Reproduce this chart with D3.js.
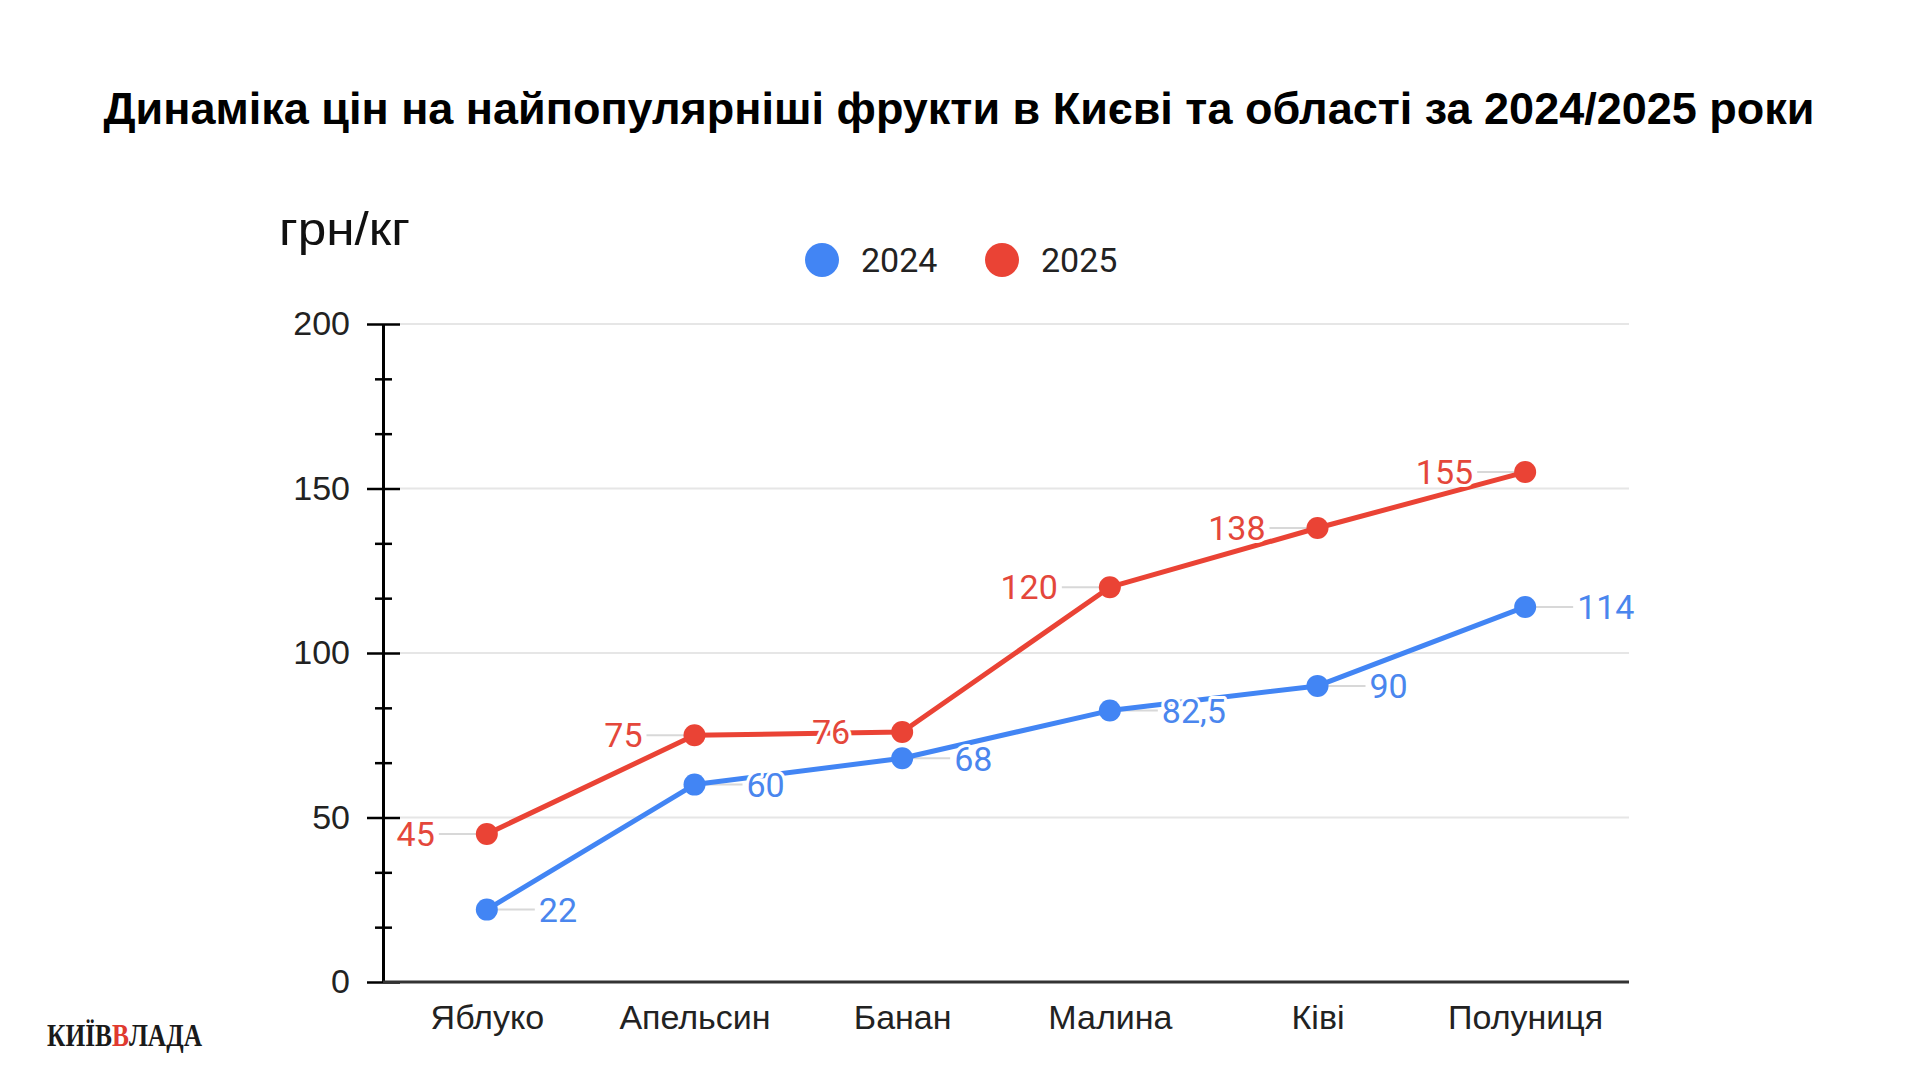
<!DOCTYPE html>
<html>
<head>
<meta charset="utf-8">
<script src="https://cdn.jsdelivr.net/npm/d3@7"></script>
<style>
  body { margin: 0; background: #fff; }
  svg { display: block; }
</style>
</head>
<body>
<script>
// data
var fruits = ["Яблуко", "Апельсин", "Банан", "Малина", "Ківі", "Полуниця"];
var years = ["2024", "2025"];
var prices2024 = [22, 60, 68, 82.5, 90, 114];
var prices2025 = [45, 75, 76, 120, 138, 155];
var labels2024 = ["22", "60", "68", "82,5", "90", "114"];
var labels2025 = ["45", "75", "76", "120", "138", "155"];
var yTicks = [0, 50, 100, 150, 200];

var W = 1920, H = 1080;
var margin = {top: 324, right: 291, bottom: 98, left: 383};
var colors = {"2024": "#4285f4", "2025": "#ea4335"};
var labelColors = {"2024": "#4a86ee", "2025": "#e4473b"};

var svg = d3.select("body").append("svg")
    .attr("width", W)
    .attr("height", H);

// title
svg.append("text")
    .attr("x", 959)
    .attr("y", 124)
    .attr("text-anchor", "middle")
    .style("font-family", "'Liberation Sans', Arial, sans-serif")
    .style("font-weight", "bold")
    .style("font-size", "45px")
    .attr("fill", "#000")
    .text("Динаміка цін на найпопулярніші фрукти в Києві та області за 2024/2025 роки");

var x = d3.scalePoint()
    .domain(fruits)
    .range([margin.left, W - margin.right])
    .padding(0.5);

var y = d3.scaleLinear()
    .domain([0, 200])
    .range([H - margin.bottom, margin.top]);

// unit label
svg.append("text")
    .attr("x", 279)
    .attr("y", 245)
    .style("font-family", "'Liberation Sans', Arial, sans-serif")
    .style("font-size", "46px")
    .attr("textLength", 131)
    .attr("lengthAdjust", "spacingAndGlyphs")
    .attr("fill", "#111")
    .text("грн/кг");

// gridlines
svg.append("g")
    .selectAll("line")
    .data(yTicks.slice(1))
    .enter()
    .append("line")
    .attr("x1", margin.left + 17)
    .attr("x2", W - margin.right)
    .attr("y1", d => y(d))
    .attr("y2", d => y(d))
    .style("stroke", "#e6e6e6")
    .style("stroke-width", 2);

// minor ticks
var minor = d3.range(0, 200, 50 / 3).filter(v => Math.abs(v % 50) > 1 && Math.abs(v % 50 - 50) > 1);
svg.append("g")
    .attr("transform", "translate(" + margin.left + ",0)")
    .call(d3.axisLeft(y).tickValues(minor).tickSize(9).tickFormat(""))
    .call(g => g.select(".domain").remove())
    .call(g => g.selectAll("line").attr("x2", -8).attr("x1", 9).style("stroke", "#000").style("stroke-width", 2.5));

// major axis
var yAxis = svg.append("g")
    .attr("transform", "translate(" + margin.left + ",0)")
    .call(d3.axisLeft(y).tickValues(yTicks).tickSize(16).tickPadding(17).tickSizeOuter(0));
yAxis.select(".domain").style("stroke", "#000").style("stroke-width", 3);
yAxis.selectAll("line").attr("x1", 17).style("stroke", "#000").style("stroke-width", 2.5);
yAxis.selectAll("text")
    .style("font-family", "'Liberation Sans', Arial, sans-serif")
    .style("font-size", "34px")
    .attr("fill", "#222");

// x axis
var xAxis = svg.append("g")
    .attr("transform", "translate(0," + (H - margin.bottom) + ")")
    .call(d3.axisBottom(x).tickSize(0).tickPadding(23));
xAxis.select(".domain")
    .attr("d", "M" + margin.left + ",0H" + (W - margin.right))
    .style("stroke", "#333")
    .style("stroke-width", 3);
xAxis.selectAll("text")
    .style("font-family", "'Liberation Sans', Arial, sans-serif")
    .style("font-size", "34px")
    .attr("fill", "#222");

// legend
var legend = svg.append("g");
var legendX = [822, 1002];
years.forEach(function (yr, i) {
    legend.append("circle")
        .attr("cx", legendX[i])
        .attr("cy", 260)
        .attr("r", 17)
        .style("fill", colors[yr]);
    legend.append("text")
        .attr("x", legendX[i] + 39)
        .attr("y", 272)
        .style("font-family", "Roboto, Arial, sans-serif")
        .style("font-size", "34px")
        .attr("fill", "#222")
        .text(yr);
});

var series = [
    {year: "2024", values: prices2024, labels: labels2024, side: 1},
    {year: "2025", values: prices2025, labels: labels2025, side: -1}
];

var line = d3.line()
    .x((d, i) => x(fruits[i]))
    .y(d => y(d));

var layers = svg.selectAll(".series")
    .data(series)
    .enter()
    .append("g")
    .attr("class", "series");

// leader lines (drawn under the lines)
layers.each(function (s) {
    d3.select(this).selectAll(".stem")
        .data(s.values)
        .enter()
        .append("line")
        .attr("x1", (d, i) => x(fruits[i]))
        .attr("x2", (d, i) => x(fruits[i]) + s.side * 48)
        .attr("y1", d => y(d))
        .attr("y2", d => y(d))
        .style("stroke", "#d8d8d8")
        .style("stroke-width", 2);
});

layers.append("path")
    .attr("d", s => line(s.values))
    .style("fill", "none")
    .style("stroke", s => colors[s.year])
    .style("stroke-width", 5)
    .style("stroke-linejoin", "round");

layers.each(function (s) {
    var g = d3.select(this);
    g.selectAll("circle")
        .data(s.values)
        .enter()
        .append("circle")
        .attr("cx", (d, i) => x(fruits[i]))
        .attr("cy", d => y(d))
        .attr("r", 11)
        .style("fill", colors[s.year]);
});

// data labels with white halo
layers.each(function (s) {
    d3.select(this).selectAll(".lbl")
        .data(s.values)
        .enter()
        .append("text")
        .attr("x", (d, i) => x(fruits[i]) + s.side * 52)
        .attr("y", d => y(d))
        .attr("dy", "0.36em")
        .attr("text-anchor", s.side > 0 ? "start" : "end")
        .style("font-family", "Roboto, Arial, sans-serif")
        .style("font-size", "34px")
        .style("paint-order", "stroke")
        .style("stroke", "#fff")
        .style("stroke-width", 6)
        .style("stroke-linejoin", "round")
        .attr("fill", labelColors[s.year])
        .text((d, i) => s.labels[i]);
});

// logo: three pieces side by side, squeezed to fit 155px
var logoParts = [["КИЇВ", "#1a1a1a"], ["В", "#e03a2f"], ["ЛАДА", "#1a1a1a"]];
var logo = svg.append("g");
var cursor = 0;
logoParts.forEach(function (p) {
    var t = logo.append("text")
        .attr("x", cursor)
        .attr("y", 0)
        .style("font-family", "'Liberation Serif', 'DejaVu Serif', serif")
        .style("font-weight", "bold")
        .style("font-size", "31px")
        .attr("fill", p[1])
        .text(p[0]);
    cursor += t.node().getComputedTextLength();
});
logo.attr("transform", "translate(47,1046) scale(" + (155 / cursor) + ",1)");
</script>
</body>
</html>
